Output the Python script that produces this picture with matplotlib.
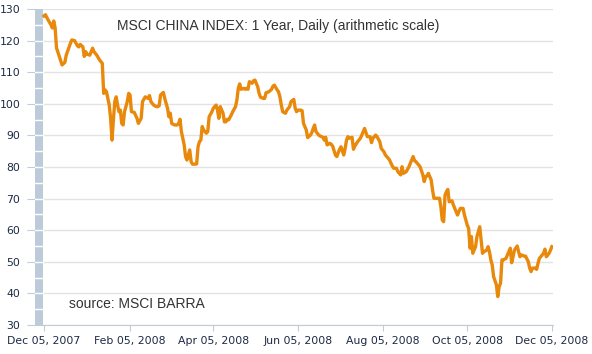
import numpy as np
import matplotlib
matplotlib.use("Agg")
import matplotlib.pyplot as plt
import matplotlib.dates as mdates

# days after Dec 05, 2007 and index level
days = [0, 1, 3, 5, 6, 7, 8, 9, 11, 13, 15, 16, 19, 20, 22, 24, 25, 26, 28, 29,
        30, 31, 33, 35, 36, 38, 40, 42, 43, 44, 45, 46, 47, 48, 49, 50, 51, 52, 53, 54,
        55, 56, 57, 58, 60, 61, 62, 63, 65, 67, 68, 70, 71, 73, 75, 76, 77, 79, 81, 82,
        83, 84, 86, 87, 89, 90, 91, 92, 94, 96, 97, 98, 99, 100, 101, 102, 103, 105, 106, 107,
        109, 110, 111, 112, 113, 114, 115, 117, 118, 119, 121, 122, 124, 125, 126, 127, 129, 130, 131, 132,
        133, 135, 136, 138, 139, 140, 141, 142, 144, 145, 146, 147, 148, 150, 151, 152, 154, 155, 156, 158,
        159, 160, 162, 164, 165, 166, 168, 169, 170, 171, 172, 174, 175, 177, 178, 180, 181, 182, 183, 185,
        186, 187, 189, 190, 192, 193, 194, 195, 196, 198, 199, 201, 202, 203, 204, 206, 207, 208, 210, 211,
        212, 213, 214, 216, 217, 218, 219, 220, 222, 223, 224, 226, 228, 229, 231, 232, 233, 235, 236, 237,
        239, 240, 242, 243, 245, 246, 248, 249, 251, 252, 254, 255, 257, 258, 259, 261, 263, 264, 266, 267,
        268, 270, 271, 273, 274, 275, 276, 277, 279, 280, 281, 283, 285, 286, 287, 288, 289, 290, 291, 292,
        294, 295, 296, 298, 299, 300, 302, 303, 304, 305, 306, 307, 308, 309, 311, 312, 314, 315, 316, 317,
        319, 320, 321, 322, 323, 324, 326, 327, 328, 329, 330, 331, 333, 334, 336, 337, 338, 339, 341, 342,
        343, 344, 346, 347, 349, 350, 351, 352, 354, 355, 356, 357, 359, 360, 361, 362, 364, 365, 366]
values = [127.8, 128.2, 126.5, 125.0, 124.0, 126.2, 124.0, 117.7, 115.0, 112.3, 113.1, 115.4, 119.1, 120.2, 120.0, 118.4, 118.0, 118.8, 118.0, 115.0,
          116.5, 115.7, 115.4, 117.6, 116.5, 115.4, 113.9, 112.8, 103.3, 104.4, 103.8, 101.7, 99.6, 95.4, 88.5, 94.9, 100.7, 102.2, 99.6, 97.5,
          98.0, 93.8, 93.3, 97.5, 100.7, 103.3, 102.8, 97.5, 97.3, 95.4, 93.8, 95.4, 100.7, 102.2, 101.7, 102.6, 100.7, 99.6, 99.1, 99.1,
          99.4, 102.8, 103.6, 101.7, 98.6, 95.9, 97.0, 93.8, 93.3, 93.3, 93.8, 95.1, 91.2, 89.1, 87.0, 83.3, 82.2, 85.4, 81.7, 80.9,
          80.9, 81.0, 86.4, 88.0, 88.5, 92.8, 91.7, 90.7, 91.2, 95.9, 97.5, 98.6, 99.6, 98.0, 95.4, 99.1, 97.0, 94.3, 94.3, 95.1,
          94.9, 96.5, 97.5, 99.1, 101.2, 104.9, 106.3, 104.6, 104.9, 104.6, 104.9, 104.6, 107.0, 106.5, 107.3, 107.5, 105.4, 103.3, 102.1, 101.7,
          101.7, 103.5, 103.8, 104.6, 105.6, 105.9, 104.4, 103.8, 102.2, 99.6, 97.5, 97.0, 98.0, 99.1, 100.7, 101.4, 98.6, 97.5, 98.0, 98.0,
          97.8, 93.8, 91.7, 89.3, 90.1, 90.9, 92.2, 93.3, 91.2, 90.1, 89.8, 89.4, 88.5, 89.4, 87.0, 87.5, 87.2, 86.6, 83.8, 83.3,
          84.5, 85.6, 86.4, 83.8, 85.9, 88.5, 89.6, 89.1, 89.4, 85.6, 86.6, 88.0, 89.1, 90.1, 92.2, 90.9, 89.6, 89.6, 87.7, 89.1,
          90.1, 89.6, 88.0, 85.9, 84.8, 83.8, 82.8, 82.2, 80.3, 79.6, 79.6, 78.5, 77.5, 80.1, 78.0, 78.5, 80.1, 81.2, 83.3, 82.0,
          81.7, 80.6, 80.1, 77.5, 75.4, 76.9, 77.2, 78.0, 75.9, 72.7, 70.1, 70.1, 70.1, 67.4, 63.2, 62.7, 71.1, 72.2, 72.9, 69.0,
          69.3, 68.0, 66.9, 64.8, 65.9, 66.9, 66.9, 64.8, 63.2, 61.6, 60.6, 54.3, 58.0, 52.7, 54.8, 58.0, 61.1, 56.9, 52.7, 53.2,
          53.7, 54.8, 53.2, 50.6, 49.0, 45.3, 42.7, 39.0, 42.1, 43.2, 50.6, 50.6, 51.1, 52.2, 54.3, 49.7, 51.6, 53.7, 55.0, 53.2,
          51.6, 52.2, 51.8, 51.8, 50.0, 48.0, 46.9, 48.0, 48.0, 47.6, 49.5, 51.1, 52.2, 52.7, 54.0, 51.6, 52.7, 53.7, 54.8]

start = np.datetime64("2007-12-05")
tick_dates = ["2007-12-05", "2008-02-05", "2008-04-05", "2008-06-05",
              "2008-08-05", "2008-10-05", "2008-12-05"]
y_ticks = [30, 40, 50, 60, 70, 80, 90, 100, 110, 120, 130]

dates = start + np.array(days).astype("timedelta64[D]")
xmin = mdates.date2num(start) - 6.5
xmax = mdates.date2num(start) + 366.8
bar_right = mdates.date2num(start) - 1.0

fig = plt.figure(figsize=(5.92, 3.54), dpi=100)
ax = fig.add_axes([35 / 592, 29 / 354, 518 / 592, 316 / 354])

# grid, then the grey-blue band at the left
for v in y_ticks:
    ax.axhline(v, color="#e3e3e3", lw=1, zorder=1)
ax.axvspan(xmin, bar_right, color="#bccbd9", lw=0, zorder=2)
for v in range(35, 130, 5):
    ax.plot([xmin, bar_right], [v, v], color="white", lw=1, zorder=3)

ax.plot(mdates.date2num(dates), values, color="#e8890c", lw=2.4,
        solid_joinstyle="round", zorder=4)

ax.set_xlim(xmin, xmax)
ax.set_ylim(30, 130)
ax.set_yticks(y_ticks)
ax.set_xticks([mdates.date2num(np.datetime64(d)) for d in tick_dates])
ax.xaxis.set_major_formatter(mdates.DateFormatter("%b %d, %Y"))

for s in ["top", "right", "left"]:
    ax.spines[s].set_visible(False)
ax.spines["bottom"].set_color("#c2cbd6")
ax.tick_params(axis="y", length=6, color="#c2cbd6", pad=4.5,
               labelsize=7.8, labelcolor="#1c2a44")
ax.tick_params(axis="x", length=4, color="#c2cbd6", pad=4,
               labelsize=7.8, labelcolor="#1c2a44")
for lab in ax.get_xticklabels() + ax.get_yticklabels():
    lab.set_family("DejaVu Sans")

ax.text(0.158, 0.9335, "MSCI CHINA INDEX: 1 Year, Daily (arithmetic scale)",
        transform=ax.transAxes, ha="left", va="baseline", fontsize=10,
        family="Liberation Sans", color="#333333")
ax.text(0.066, 0.053, "source: MSCI BARRA", transform=ax.transAxes,
        ha="left", va="baseline", fontsize=10, family="Liberation Sans",
        color="#333333")

fig.savefig("out.png", dpi=100)
